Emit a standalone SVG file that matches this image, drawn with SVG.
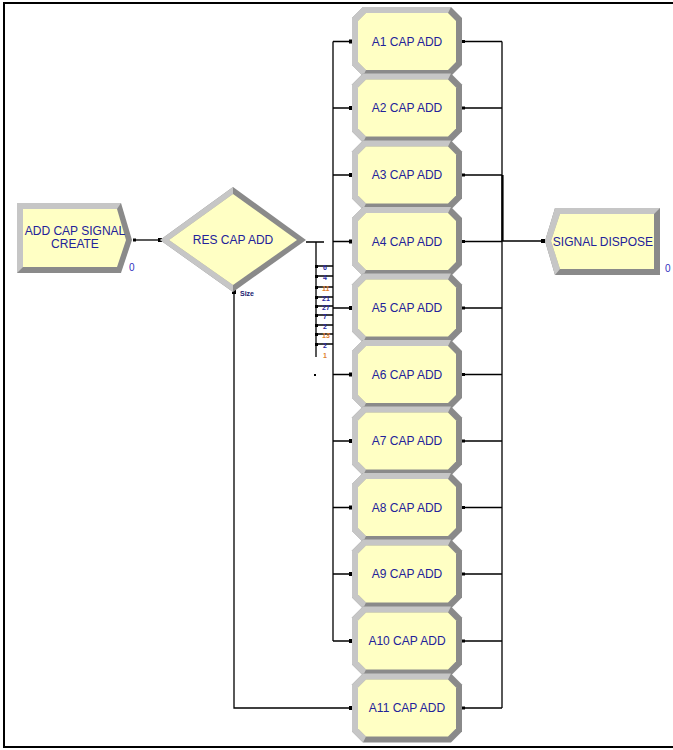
<svg xmlns="http://www.w3.org/2000/svg" xmlns:xlink="http://www.w3.org/1999/xlink" width="673" height="750" viewBox="0 0 673 750">
<style>
.lbl{font-family:"Liberation Sans",Arial,sans-serif;font-size:12px;fill:#22229a;text-anchor:middle}
.cnt{font-family:"Liberation Sans",Arial,sans-serif;font-size:10px;fill:#3030c0}
.tiny{font-family:"Liberation Sans",Arial,sans-serif;font-size:7px;font-weight:bold}
.ln{stroke:#000;stroke-width:1.3;fill:none}
.dark{fill:#8a8a8a}
.light{fill:#c6c6c6}
.body{fill:#ffffc4}
</style>
<defs>
<g id="proc">
<polygon class="dark" points="11,0 99,0 110,11 110,58 99,69 11,69 0,58 0,11"/>
<polygon class="light" points="99,0 11,0 0,11 0,58 11,69 14,63 6,55 6,14 14,6 96,6"/>
<polygon class="body" points="14,6 96,6 104,14 104,55 96,63 14,63 6,55 6,14"/>
</g>
<rect id="sq" x="-2" y="-2" width="4" height="4" fill="#000"/>
</defs>
<rect x="0" y="0" width="673" height="750" fill="#fff"/>
<path d="M4,748 V3 H673 M4,747 H673" stroke="#000" stroke-width="2" fill="none"/>

<g id="connectors">
<path class="ln" d="M135,240 H160"/>
<use xlink:href="#sq" x="160" y="240"/>
<path class="ln" d="M306,242 H324 M316,242 V357"/>
<path class="ln" d="M316,266 H333 M316,276 H333 M316,287 H333 M316,297 H333 M316,306 H333 M316,315 H333 M316,325 H333 M316,334 H333 M316,344 H333"/>
<g fill="#000">
<rect x="315" y="265" width="3" height="3"/><rect x="315" y="275" width="3" height="3"/><rect x="315" y="286" width="3" height="3"/><rect x="315" y="296" width="3" height="3"/><rect x="315" y="305" width="3" height="3"/><rect x="315" y="314" width="3" height="3"/><rect x="315" y="324" width="3" height="3"/><rect x="315" y="333" width="3" height="3"/><rect x="315" y="343" width="3" height="3"/>
<rect x="314" y="374" width="2" height="2"/>
</g>
<g class="tiny">
<text x="323" y="270" fill="#2a2aa0">6</text>
<text x="323" y="280" fill="#2a2aa0">4</text>
<text x="322" y="291" fill="#e08030">11</text>
<text x="322" y="301" fill="#2a2aa0">21</text>
<text x="322" y="310" fill="#2a2aa0">27</text>
<text x="323" y="319" fill="#2a2aa0">7</text>
<text x="323" y="329" fill="#2a2aa0">2</text>
<text x="322" y="338" fill="#e08030">13</text>
<text x="323" y="348" fill="#2a2aa0">2</text>
<text x="323" y="358" fill="#e08030">1</text>
</g>
<path class="ln" d="M333,41.5 V641 M333,41.5 H352 M333,108 H352 M333,175 H352 M333,241.5 H352 M333,308 H352 M333,374.5 H352 M333,441 H352 M333,507.5 H352 M333,574 H352 M333,641 H352"/>
<path class="ln" d="M234,292 V708 H352"/>
<use xlink:href="#sq" x="234" y="292"/>
<text class="tiny" x="240" y="296" fill="#202070">Size</text>
<g fill="#000">
<rect x="349" y="39.5" width="4" height="4"/><rect x="349" y="106" width="4" height="4"/><rect x="349" y="173" width="4" height="4"/><rect x="349" y="239.5" width="4" height="4"/><rect x="349" y="306" width="4" height="4"/><rect x="349" y="372.5" width="4" height="4"/><rect x="349" y="439" width="4" height="4"/><rect x="349" y="505.5" width="4" height="4"/><rect x="349" y="572" width="4" height="4"/><rect x="349" y="639" width="4" height="4"/><rect x="349" y="706" width="4" height="4"/>
</g>
<path class="ln" d="M462,41.5 H502 M462,108 H502 M462,175 H502 M462,241.5 H502 M462,308 H502 M462,374.5 H502 M462,441 H502 M462,507.5 H502 M462,574 H502 M462,641 H502 M462,708 H502 M502,41.5 V708 M502,241 H543"/>
<path d="M502.5,175 V241" stroke="#000" stroke-width="2.2"/>
<use xlink:href="#sq" x="543" y="241"/>
<g fill="#000">
<rect x="462" y="40" width="3" height="3"/><rect x="462" y="106.5" width="3" height="3"/><rect x="462" y="173.5" width="3" height="3"/><rect x="462" y="240" width="3" height="3"/><rect x="462" y="306.5" width="3" height="3"/><rect x="462" y="373" width="3" height="3"/><rect x="462" y="439.5" width="3" height="3"/><rect x="462" y="506" width="3" height="3"/><rect x="462" y="572.5" width="3" height="3"/><rect x="462" y="639.5" width="3" height="3"/><rect x="462" y="706.5" width="3" height="3"/>
<rect x="133" y="238.5" width="3" height="3"/>
</g>
</g>

<g id="create">
<polygon class="dark" points="17,203 121,203 132,240 121,273 17,273"/>
<polygon class="light" points="121,203 17,203 17,273 23,267 23,209 117,209"/>
<polygon class="body" points="23,209 117,209 126,240 117,267 23,267"/>
<text class="lbl" x="75" y="235">ADD CAP SIGNAL</text>
<text class="lbl" x="75" y="248">CREATE</text>
<text class="cnt" x="129" y="271">0</text>
</g>

<g id="decide">
<polygon class="dark" points="160,240 233,187 306,240 233,292"/>
<polygon class="light" points="233,187 160,240 233,292 233,285 169,240 233,194"/>
<polygon class="body" points="169,240 233,194 297,240 233,285"/>
<text class="lbl" x="233" y="244">RES CAP ADD</text>
</g>

<g id="a1"><use xlink:href="#proc" x="352" y="7"/><text class="lbl" x="407" y="45.5">A1 CAP ADD</text></g>
<g id="a2"><use xlink:href="#proc" x="352" y="73.5"/><text class="lbl" x="407" y="112">A2 CAP ADD</text></g>
<g id="a3"><use xlink:href="#proc" x="352" y="140.5"/><text class="lbl" x="407" y="179">A3 CAP ADD</text></g>
<g id="a4"><use xlink:href="#proc" x="352" y="207"/><text class="lbl" x="407" y="245.5">A4 CAP ADD</text></g>
<g id="a5"><use xlink:href="#proc" x="352" y="273.5"/><text class="lbl" x="407" y="312">A5 CAP ADD</text></g>
<g id="a6"><use xlink:href="#proc" x="352" y="340"/><text class="lbl" x="407" y="378.5">A6 CAP ADD</text></g>
<g id="a7"><use xlink:href="#proc" x="352" y="406.5"/><text class="lbl" x="407" y="445">A7 CAP ADD</text></g>
<g id="a8"><use xlink:href="#proc" x="352" y="473"/><text class="lbl" x="407" y="511.5">A8 CAP ADD</text></g>
<g id="a9"><use xlink:href="#proc" x="352" y="539.5"/><text class="lbl" x="407" y="578">A9 CAP ADD</text></g>
<g id="a10"><use xlink:href="#proc" x="352" y="606.5"/><text class="lbl" x="407" y="645">A10 CAP ADD</text></g>
<g id="a11"><use xlink:href="#proc" x="352" y="673.5"/><text class="lbl" x="407" y="712">A11 CAP ADD</text></g>

<g id="dispose">
<polygon class="dark" points="555,208 660,208 660,275 555,275 545,241"/>
<polygon class="light" points="660,208 555,208 545,241 555,275 560,269 551,241 560,214 654,214"/>
<polygon class="body" points="560,214 654,214 654,269 560,269 551,241"/>
<text class="lbl" x="603" y="245.5">SIGNAL DISPOSE</text>
<text class="cnt" x="665" y="272">0</text>
</g>
</svg>
